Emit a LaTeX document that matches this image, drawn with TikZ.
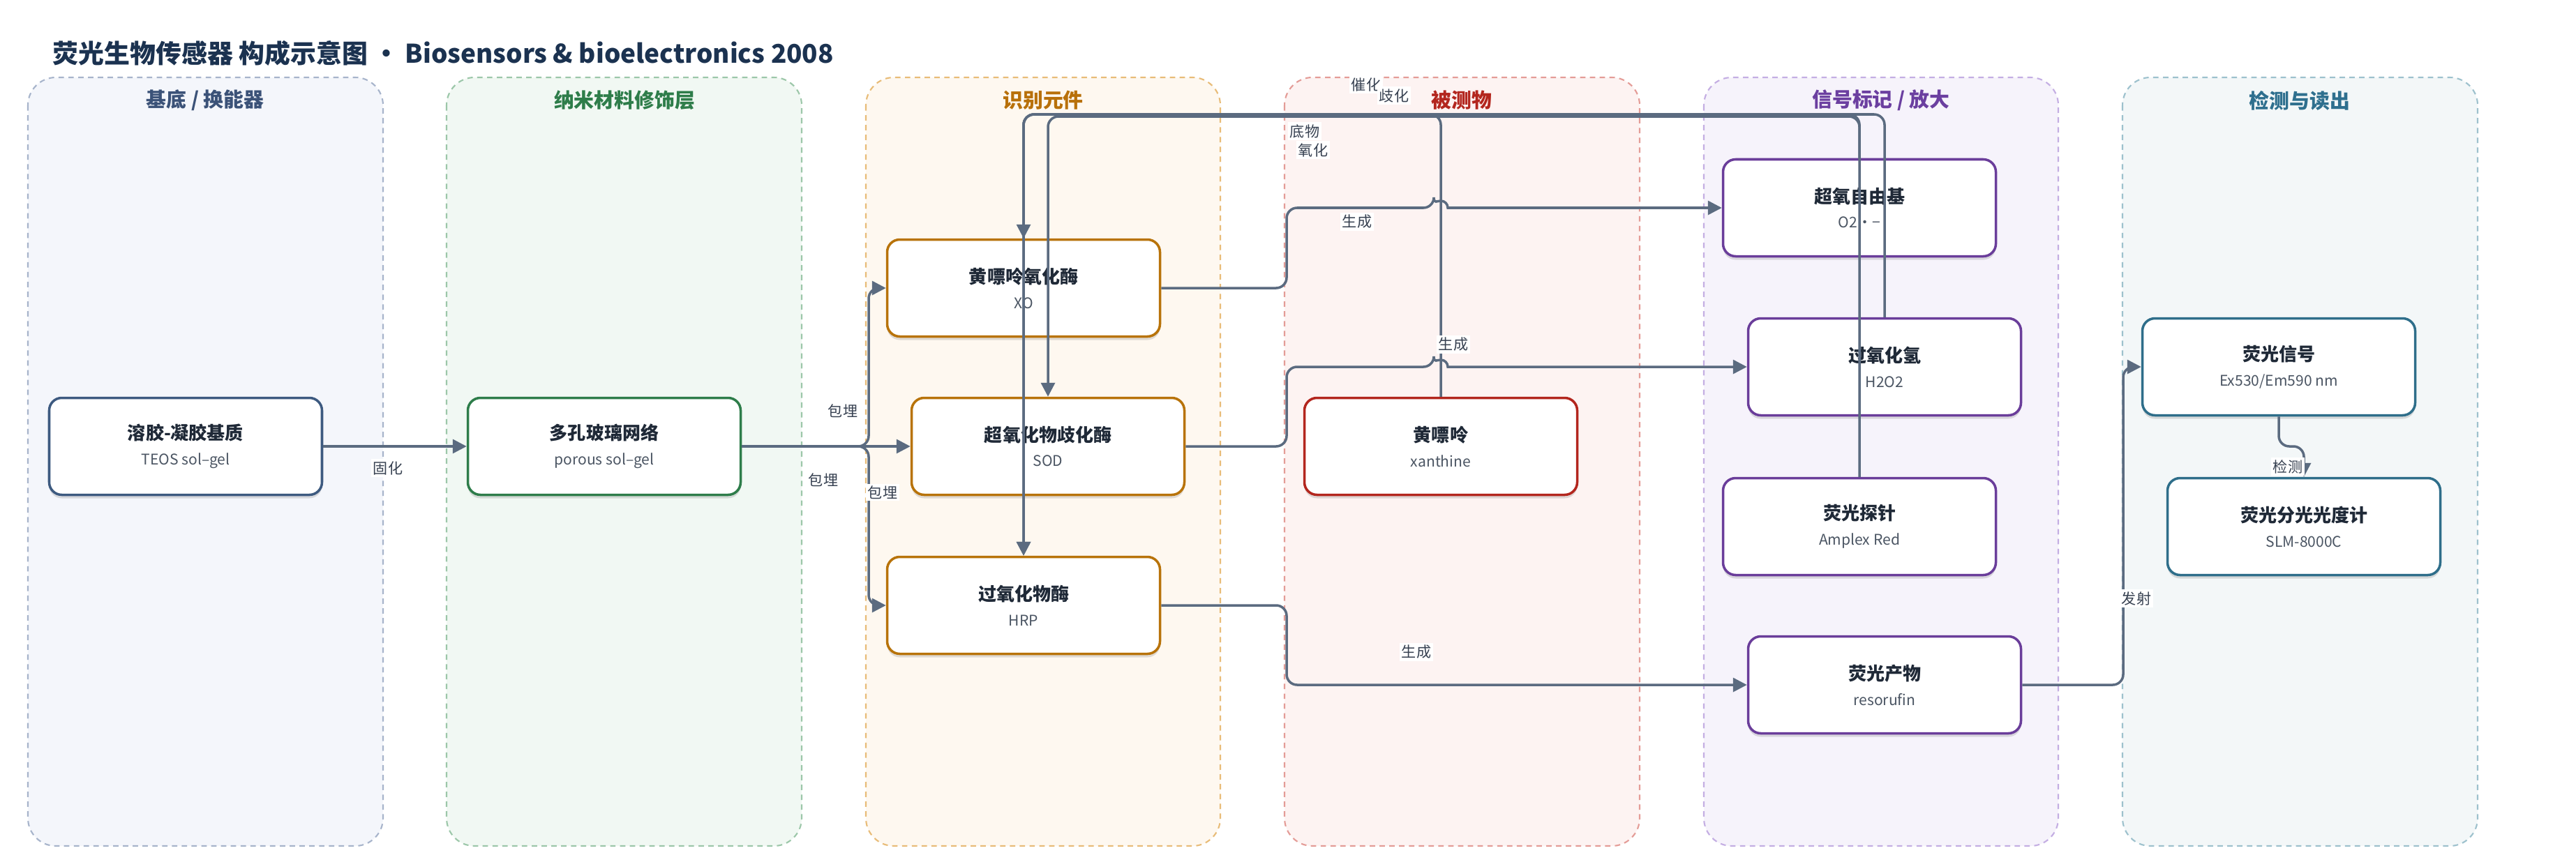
\documentclass[tikz,border=0pt]{standalone}
\usepackage{fontspec}
\setmainfont{Noto Sans CJK SC}
\usetikzlibrary{arrows.meta,shadows}

\definecolor{edgec}{HTML}{5B6B80}
\definecolor{titlec}{HTML}{1B3250}
\definecolor{textc}{HTML}{1F2937}
\definecolor{subc}{HTML}{4B5563}
\definecolor{labc}{HTML}{374151}
\definecolor{fill0}{HTML}{F4F6FB}\definecolor{line0}{HTML}{A7B4CB}\definecolor{head0}{HTML}{3B5278}\definecolor{box0}{HTML}{3D5A80}
\definecolor{fill1}{HTML}{F1F8F3}\definecolor{line1}{HTML}{9CC7A9}\definecolor{head1}{HTML}{2E7D4A}\definecolor{box1}{HTML}{2E7D4A}
\definecolor{fill2}{HTML}{FEF8F0}\definecolor{line2}{HTML}{E8BC78}\definecolor{head2}{HTML}{B8700A}\definecolor{box2}{HTML}{B8730A}
\definecolor{fill3}{HTML}{FDF3F2}\definecolor{line3}{HTML}{E49C97}\definecolor{head3}{HTML}{B3261E}\definecolor{box3}{HTML}{B3261E}
\definecolor{fill4}{HTML}{F6F3FB}\definecolor{line4}{HTML}{C4AEE3}\definecolor{head4}{HTML}{6B3FA0}\definecolor{box4}{HTML}{6A3D9A}
\definecolor{fill5}{HTML}{F3F7F8}\definecolor{line5}{HTML}{9DC1CD}\definecolor{head5}{HTML}{2E6F8E}\definecolor{box5}{HTML}{2E6E8A}

\tikzset{
  lane/.style={fill=fill#1,draw=line#1,line width=0.6pt,dash pattern=on 2.2pt off 1.8pt,rounded corners=0.4cm},
  lanehead/.style={text=head#1,font=\fontsize{8.2}{10}\selectfont\bfseries},
  nbox/.style={draw=box#1,fill=white,line width=1pt,rounded corners=0.18cm,
    minimum width=3.91cm,minimum height=1.39cm,align=center,text=textc,
    font=\fontsize{7.4}{10.2}\selectfont,
    drop shadow={shadow xshift=0cm,shadow yshift=-0.05cm,opacity=0.12,fill=black}},
  conn/.style={draw=edgec,line width=1pt,rounded corners=0.15cm,-{Triangle[length=0.2cm,width=0.2cm]}},
  elabel/.style={fill=white,text=labc,inner sep=0.8pt,font=\fontsize{6}{7}\selectfont}
}
\newcommand{\twoline}[2]{\textbf{#1}\\{\fontsize{6}{10.2}\selectfont\color{subc}#2}}

\begin{document}
\begin{tikzpicture}
  \fill[white] (0,0) rectangle (36.92,-12.35);
  \useasboundingbox (0,0) rectangle (36.92,-12.35);

  \node[anchor=west,inner sep=0pt,text=titlec,font=\fontsize{10.5}{13}\selectfont\bfseries] at (0.75,-0.76) (title)
    {荧光生物传感器 构成示意图 · Biosensors \& bioelectronics 2008};

  % lanes
  \draw[lane=0] (0.40,-1.11) rectangle (5.49,-12.13);
  \draw[lane=1] (6.40,-1.11) rectangle (11.49,-12.13);
  \draw[lane=2] (12.41,-1.11) rectangle (17.49,-12.13);
  \draw[lane=3] (18.41,-1.11) rectangle (23.50,-12.13);
  \draw[lane=4] (24.42,-1.11) rectangle (29.50,-12.13);
  \draw[lane=5] (30.42,-1.11) rectangle (35.51,-12.13);

  \node[lanehead=0] at (2.94,-1.44) (h0) {基底 / 换能器};
  \node[lanehead=1] at (8.95,-1.44) (h1) {纳米材料修饰层};
  \node[lanehead=2] at (14.95,-1.44) (h2) {识别元件};
  \node[lanehead=3] at (20.95,-1.44) (h3) {被测物};
  \node[lanehead=4] at (26.96,-1.44) (h4) {信号标记 / 放大};
  \node[lanehead=5] at (32.96,-1.44) (h5) {检测与读出};

  % nodes
  \node[nbox=0] at (2.66,-6.40) (n0-0) {\twoline{溶胶-凝胶基质}{TEOS sol–gel}};
  \node[nbox=1] at (8.66,-6.40) (n1-0) {\twoline{多孔玻璃网络}{porous sol–gel}};
  \node[nbox=2] at (14.67,-4.13) (n2-0) {\twoline{黄嘌呤氧化酶}{XO}};
  \node[nbox=2] at (15.02,-6.40) (n2-1) {\twoline{超氧化物歧化酶}{SOD}};
  \node[nbox=2] at (14.67,-8.68) (n2-2) {\twoline{过氧化物酶}{HRP}};
  \node[nbox=3] at (20.65,-6.40) (n3-0) {\twoline{黄嘌呤}{xanthine}};
  \node[nbox=4] at (26.65,-2.98) (n4-0) {\twoline{超氧自由基}{O2·−}};
  \node[nbox=4] at (27.01,-5.26) (n4-1) {\twoline{过氧化氢}{H2O2}};
  \node[nbox=4] at (26.65,-7.55) (n4-2) {\twoline{荧光探针}{Amplex Red}};
  \node[nbox=4] at (27.01,-9.82) (n4-3) {\twoline{荧光产物}{resorufin}};
  \node[nbox=5] at (32.66,-5.26) (n5-0) {\twoline{荧光信号}{Ex530/Em590 nm}};
  \node[nbox=5] at (33.02,-7.55) (n5-1) {\twoline{荧光分光光度计}{SLM-8000C}};

  % connectors
  \draw[conn] (n0-0) -- (n1-0);
  \draw[conn] (n1-0.east) -- (12.45,-6.40) |- (n2-0.west);
  \draw[conn] (n1-0) -- (n2-1);
  \draw[conn] (n1-0.east) -- (12.45,-6.40) |- (n2-2.west);

  \draw[conn] (n2-0.east) -- (18.44,-4.13) -- (18.44,-2.98) -- (20.55,-2.98) [sharp corners]
    arc[start angle=180,end angle=0,radius=0.1] -- (n4-0.west);
  \draw[conn] (n2-1.east) -- (18.44,-6.40) -- (18.44,-5.26) -- (20.55,-5.26) [sharp corners]
    arc[start angle=180,end angle=0,radius=0.1] -- (n4-1.west);
  \draw[conn] (n2-2.east) -- (18.44,-8.68) |- (n4-3.west);
  \draw[conn] (n4-3.east) -- (30.43,-9.82) |- (n5-0.west);
  \draw[conn] (n5-0.south) -- (32.66,-6.40) -- (33.02,-6.40) -- (n5-1.north);

  \draw[conn] (n3-0.north) -- (20.65,-1.64) -- (14.67,-1.64) -- (n2-0.north);
  \draw[conn] (n4-0.north) -- (26.65,-1.67) -- (15.02,-1.67) -- (n2-1.north);
  \draw[conn] (n4-1.north) -- (27.01,-1.64) -- (14.67,-1.64) -- (n2-2.north);
  \draw[conn] (n4-2.north) -- (26.65,-1.64) -- (14.67,-1.64) -- (n2-2.north);

  % labels
  \node[elabel] at (5.56,-6.71) (l-0) {固化};
  \node[elabel] at (12.08,-5.89) (l-1) {包埋};
  \node[elabel] at (11.80,-6.88) (l-2) {包埋};
  \node[elabel] at (12.65,-7.06) (l-3) {包埋};
  \node[elabel] at (19.45,-3.18) (l-4) {生成};
  \node[elabel] at (20.83,-4.94) (l-5) {生成};
  \node[elabel] at (20.30,-9.35) (l-6) {生成};
  \node[elabel] at (30.62,-8.58) (l-7) {发射};
  \node[elabel] at (32.79,-6.69) (l-8) {检测};
  \node[elabel] at (19.58,-1.21) (l-9) {催化};
  \node[elabel] at (19.98,-1.37) (l-10) {歧化};
  \node[elabel] at (18.70,-1.88) (l-11) {底物};
  \node[elabel] at (18.82,-2.15) (l-12) {氧化};
\end{tikzpicture}
\end{document}
